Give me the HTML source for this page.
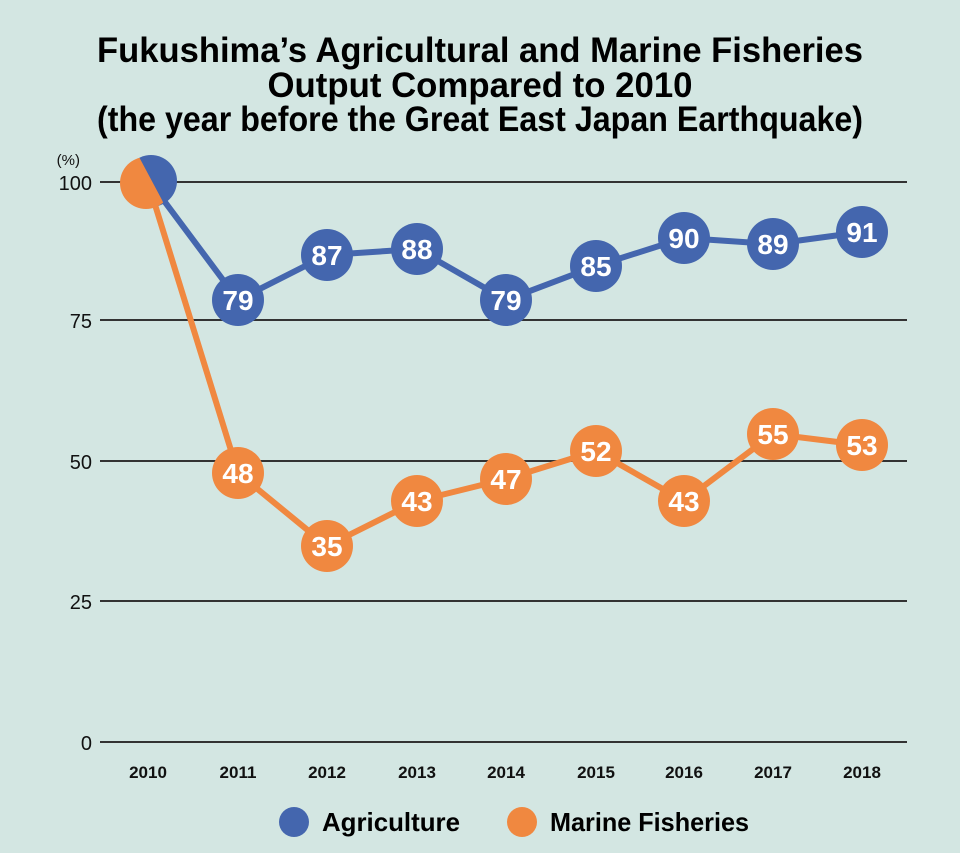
<!DOCTYPE html>
<html><head><meta charset="utf-8"><style>
html,body{margin:0;padding:0;background:#d3e6e2;}
svg{display:block;}
</style></head><body>
<svg width="960" height="853" viewBox="0 0 960 853" xmlns="http://www.w3.org/2000/svg">
<rect width="960" height="853" fill="#d3e6e2"/>
<g font-family="Liberation Sans, sans-serif" font-weight="bold" fill="#000" text-anchor="middle">
<text x="480" y="62" font-size="35" textLength="766" lengthAdjust="spacingAndGlyphs">Fukushima’s Agricultural and Marine Fisheries</text>
<text x="480" y="97" font-size="35" textLength="425" lengthAdjust="spacingAndGlyphs">Output Compared to 2010</text>
<text x="480" y="131" font-size="35" textLength="766" lengthAdjust="spacingAndGlyphs">(the year before the Great East Japan Earthquake)</text>
</g>
<g stroke="#333" stroke-width="2">
<line x1="100" y1="182" x2="907" y2="182"/>
<line x1="100" y1="320" x2="907" y2="320"/>
<line x1="100" y1="461" x2="907" y2="461"/>
<line x1="100" y1="601" x2="907" y2="601"/>
<line x1="100" y1="742" x2="907" y2="742"/>
</g>
<g font-family="Liberation Sans, sans-serif" font-size="20" fill="#111" text-anchor="end">
<text x="80" y="165" font-size="15">(%)</text>
<text x="92" y="190">100</text>
<text x="92" y="328">75</text>
<text x="92" y="469">50</text>
<text x="92" y="609">25</text>
<text x="92" y="750">0</text>
</g>
<g font-family="Liberation Sans, sans-serif" font-weight="bold" font-size="17" fill="#111" text-anchor="middle">
<text x="148" y="778">2010</text><text x="238" y="778">2011</text><text x="327" y="778">2012</text>
<text x="417" y="778">2013</text><text x="506" y="778">2014</text><text x="596" y="778">2015</text>
<text x="684" y="778">2016</text><text x="773" y="778">2017</text><text x="862" y="778">2018</text>
</g>
<polyline fill="none" stroke="#f08840" stroke-width="6" stroke-linejoin="round" points="148,182 238,473 327,546 417,501 506,479 596,451 684,501 773,434 862,445"/>
<polyline fill="none" stroke="#4466ae" stroke-width="6" stroke-linejoin="round" points="150,182 238,300 327,255 417,249 506,300 596,266 684,238 773,244 862,232"/>
<defs><clipPath id="lh"><polygon points="0,0 138,0 138,155 162,200 175,230 0,230"/></clipPath></defs>
<circle cx="151" cy="181" r="26" fill="#4466ae"/>
<circle cx="146" cy="183" r="26" fill="#f08840" clip-path="url(#lh)"/>
<g fill="#4466ae">
<circle cx="238" cy="300" r="26"/><circle cx="327" cy="255" r="26"/><circle cx="417" cy="249" r="26"/>
<circle cx="506" cy="300" r="26"/><circle cx="596" cy="266" r="26"/><circle cx="684" cy="238" r="26"/>
<circle cx="773" cy="244" r="26"/><circle cx="862" cy="232" r="26"/>
</g>
<g fill="#f08840">
<circle cx="238" cy="473" r="26"/><circle cx="327" cy="546" r="26"/><circle cx="417" cy="501" r="26"/>
<circle cx="506" cy="479" r="26"/><circle cx="596" cy="451" r="26"/><circle cx="684" cy="501" r="26"/>
<circle cx="773" cy="434" r="26"/><circle cx="862" cy="445" r="26"/>
</g>
<g font-family="Liberation Sans, sans-serif" font-weight="bold" font-size="28" fill="#fff" text-anchor="middle">
<text x="238" y="310">79</text><text x="327" y="265">87</text><text x="417" y="259">88</text>
<text x="506" y="310">79</text><text x="596" y="276">85</text><text x="684" y="248">90</text>
<text x="773" y="254">89</text><text x="862" y="242">91</text>
<text x="238" y="483">48</text><text x="327" y="556">35</text><text x="417" y="511">43</text>
<text x="506" y="489">47</text><text x="596" y="461">52</text><text x="684" y="511">43</text>
<text x="773" y="444">55</text><text x="862" y="455">53</text>
</g>
<circle cx="294" cy="822" r="15" fill="#4466ae"/>
<circle cx="522" cy="822" r="15" fill="#f08840"/>
<g font-family="Liberation Sans, sans-serif" font-weight="bold" font-size="26" fill="#000">
<text x="322" y="831" textLength="138" lengthAdjust="spacingAndGlyphs">Agriculture</text>
<text x="550" y="831" textLength="199" lengthAdjust="spacingAndGlyphs">Marine Fisheries</text>
</g>
</svg>
</body></html>
